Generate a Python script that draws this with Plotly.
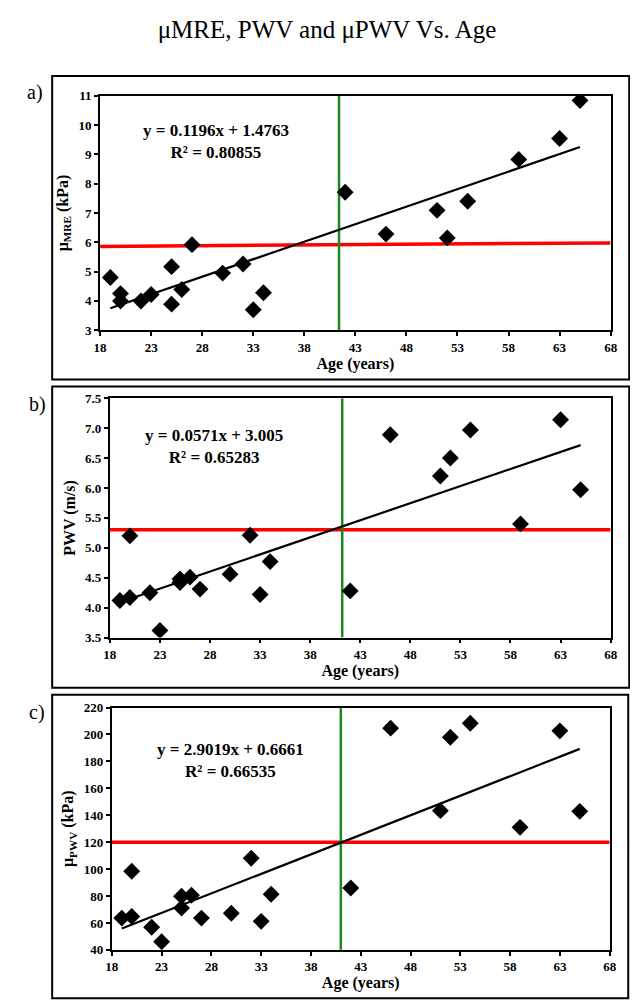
import plotly.graph_objects as go

# ---------------- data ----------------
ages = [19, 20, 20, 22, 23, 25, 25, 26, 27, 30, 32, 33, 34, 42, 46, 51, 52, 54, 59, 63, 65]
mu_mre = [4.80, 4.25, 4.00, 4.00, 4.22, 5.17, 3.89, 4.39, 5.92, 4.95, 5.26, 3.70, 4.28,
          7.71, 6.28, 7.09, 6.15, 7.40, 8.83, 9.54, 10.84]
pwv = [4.12, 5.20, 4.17, 4.25, 3.62, 4.48, 4.42, 4.51, 4.31, 4.56, 5.21, 4.22, 4.77,
       4.28, 6.89, 6.20, 6.50, 6.97, 5.40, 7.14, 5.97]
mu_pwv = [63.6, 98.4, 64.8, 56.8, 46.1, 79.9, 71.1, 80.6, 63.6, 67.2, 108.1, 61.2, 81.3,
          86.0, 204.7, 143.4, 197.9, 208.3, 131.0, 202.7, 142.9]

slopes = [0.1196, 0.0571, 2.9019]
intercepts = [1.4763, 3.005, 0.6661]
r2_values = ["0.80855", "0.65283", "0.66535"]
fit_range = [19, 65]

red_x = [18, 68]
red_a = [5.86, 5.98]
red_b = [5.30, 5.30]
red_c = [120, 120]
green_x = [41.4, 41.2, 41.0]

x_ticks = [18, 23, 28, 33, 38, 43, 48, 53, 58, 63, 68]
y_ranges = [[3, 11], [3.5, 7.5], [40, 220]]
y_dticks = [1, 0.5, 20]
y_formats = ["d", ".1f", "d"]
y_titles = ["μ<sub>MRE</sub> (kPa)", "PWV (m/s)", "μ<sub>PWV</sub> (kPa)"]
panel_labels = ["a)", "b)", "c)"]
eq_pos = [(29.4, 9.45), (28.4, 6.70), (29.9, 181.0)]

series = [mu_mre, pwv, mu_pwv]
reds = [red_a, red_b, red_c]

# ---------------- layout geometry (pixels) ----------------
W, H = 638, 1008
plot_px = [  # x0, x1, y0(top), y1(bottom)
    (87, 609, 82, 320),
    (97, 609, 389, 632),
    (99, 608, 703, 949),
]
box_px = [
    (38, 628, 62, 370),
    (38, 628, 377, 683),
    (38, 627, 690, 998),
]
label_px = [(20, 79), (23, 395), (22, 708)]

SERIF = "Liberation Serif"

fig = go.Figure()
layout = dict(
    width=W, height=H,
    margin=dict(l=0, r=0, t=0, b=0),
    paper_bgcolor="white", plot_bgcolor="white",
    showlegend=False,
    title=dict(text="μMRE, PWV and μPWV Vs. Age", x=0.5, xanchor="center",
               y=1 - 21 / H, yanchor="middle",
               font=dict(family=SERIF, size=25, color="black")),
)
shapes = []
annotations = []

for i in range(3):
    xa = "x" if i == 0 else f"x{i+1}"
    ya = "y" if i == 0 else f"y{i+1}"
    xkey = "xaxis" if i == 0 else f"xaxis{i+1}"
    ykey = "yaxis" if i == 0 else f"yaxis{i+1}"
    x0, x1, y0, y1 = plot_px[i]

    # red reference line
    fig.add_trace(go.Scatter(x=red_x, y=reds[i], mode="lines", xaxis=xa, yaxis=ya,
                             line=dict(color="#ff0000", width=3.5), hoverinfo="skip"))
    # green vertical line
    fig.add_trace(go.Scatter(x=[green_x[i], green_x[i]], y=y_ranges[i], mode="lines",
                             xaxis=xa, yaxis=ya,
                             line=dict(color="#1a8a1a", width=2.5), hoverinfo="skip"))
    # trendline
    fx = fit_range
    fy = [slopes[i] * v + intercepts[i] for v in fx]
    fig.add_trace(go.Scatter(x=fx, y=fy, mode="lines", xaxis=xa, yaxis=ya,
                             line=dict(color="black", width=2.2), hoverinfo="skip"))
    # data points
    fig.add_trace(go.Scatter(x=ages, y=series[i], mode="markers", xaxis=xa, yaxis=ya,
                             marker=dict(symbol="diamond", size=13, color="black")))

    layout[xkey] = dict(
        domain=[x0 / W, x1 / W], anchor=ya, range=[18, 68],
        tickmode="array", tickvals=x_ticks, ticks="outside", ticklen=4, tickwidth=1.5,
        tickcolor="black", showline=True, linecolor="black", linewidth=1.8, mirror=True,
        showgrid=False, zeroline=False,
        tickfont=dict(family=SERIF, size=13, color="black", weight="bold"),
        title=dict(text="Age (years)", standoff=3,
                   font=dict(family=SERIF, size=16, color="black", weight="bold")),
    )
    layout[ykey] = dict(
        domain=[1 - y1 / H, 1 - y0 / H], anchor=xa, range=y_ranges[i],
        dtick=y_dticks[i], tick0=y_ranges[i][0], tickformat=y_formats[i],
        ticks="outside", ticklen=4, tickwidth=1.5, tickcolor="black",
        showline=True, linecolor="black", linewidth=1.8, mirror=True,
        showgrid=False, zeroline=False,
        tickfont=dict(family=SERIF, size=13, color="black", weight="bold"),
        title=dict(text=y_titles[i], standoff=6,
                   font=dict(family=SERIF, size=16, color="black", weight="bold")),
    )

    bx0, bx1, by0, by1 = box_px[i]
    shapes.append(dict(type="rect", xref="paper", yref="paper",
                       x0=bx0 / W, x1=bx1 / W, y0=1 - by1 / H, y1=1 - by0 / H,
                       line=dict(color="black", width=2), layer="below"))

    lx, ly = label_px[i]
    annotations.append(dict(text=panel_labels[i], xref="paper", yref="paper",
                            x=lx / W, y=1 - ly / H, xanchor="center", yanchor="middle",
                            showarrow=False,
                            font=dict(family=SERIF, size=20, color="black")))

    ex, ey = eq_pos[i]
    eq_text = (f"y = {slopes[i]}x + {intercepts[i]}<br>R² = {r2_values[i]}")
    annotations.append(dict(text=eq_text, xref=xa, yref=ya, x=ex, y=ey,
                            xanchor="center", yanchor="middle", showarrow=False,
                            align="center",
                            font=dict(family=SERIF, size=17, color="black", weight="bold")))

layout["shapes"] = shapes
layout["annotations"] = annotations
fig.update_layout(**layout)
fig.write_html("out.html")
